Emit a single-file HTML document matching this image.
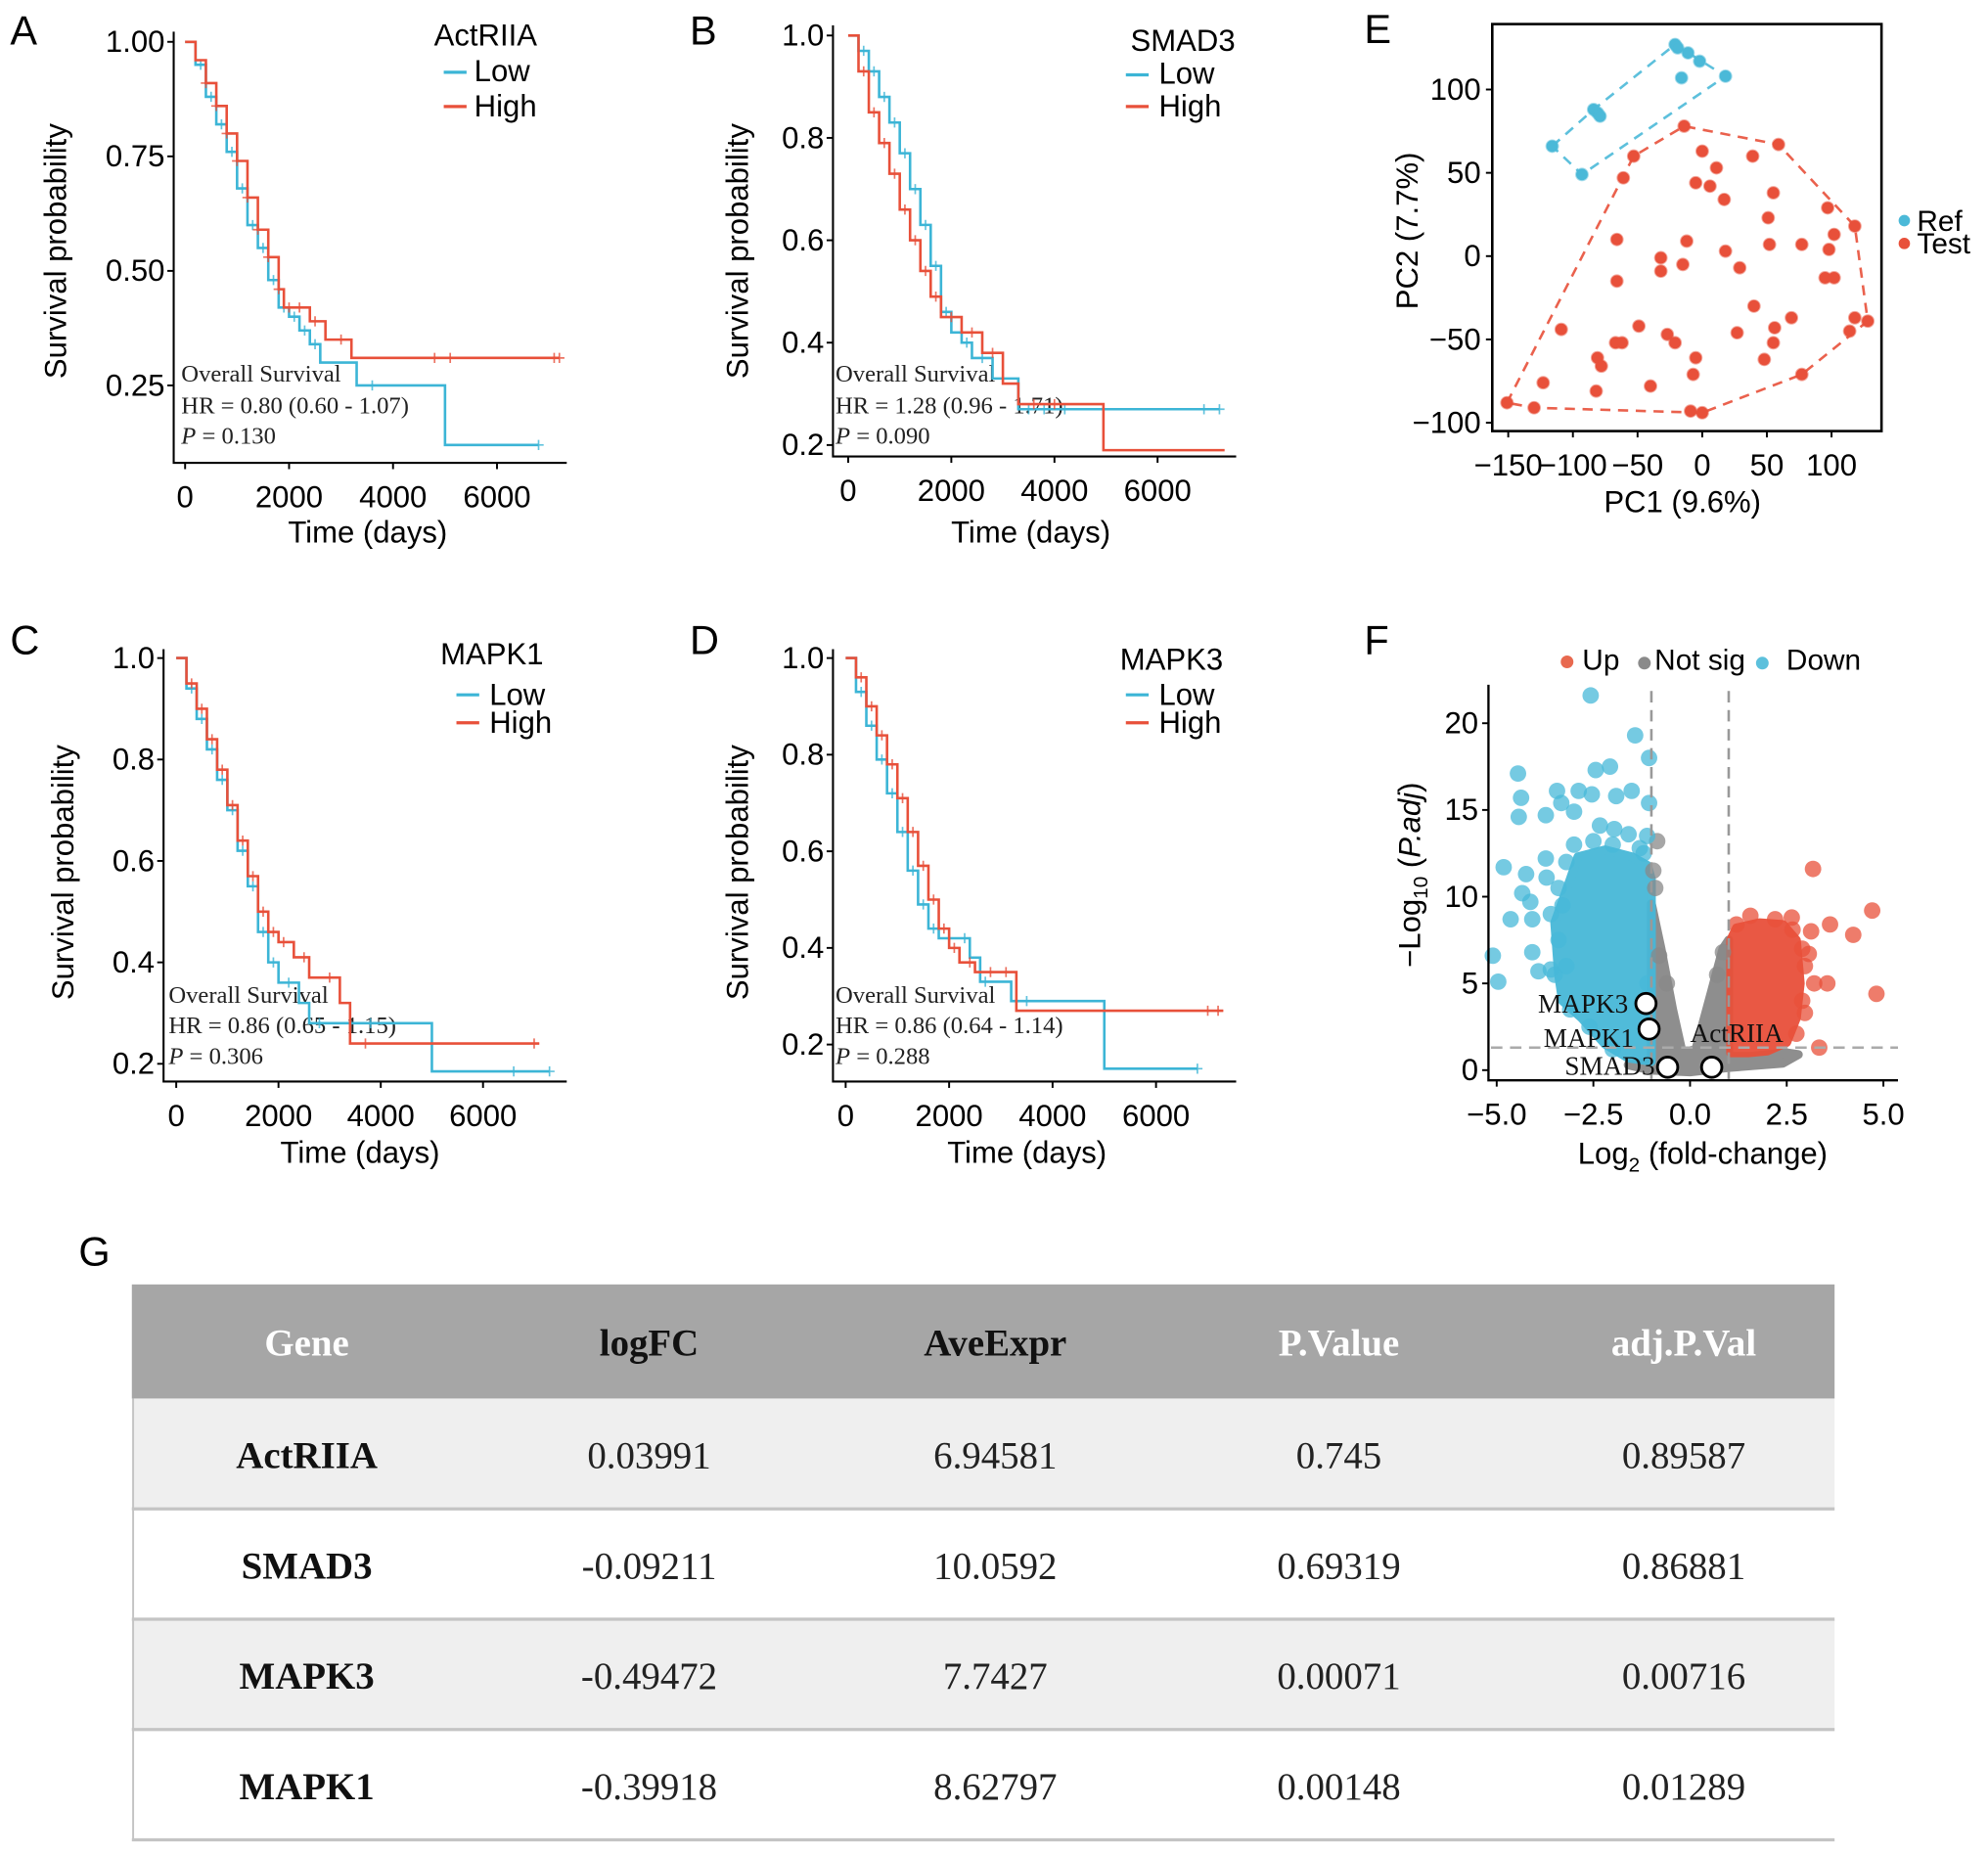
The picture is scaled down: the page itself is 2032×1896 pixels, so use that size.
<!DOCTYPE html>
<html><head><meta charset="utf-8"><style>
html,body{margin:0;padding:0;background:#fff;}
svg{display:block;}
.s{font-family:"Liberation Sans",sans-serif;}
.r{font-family:"Liberation Serif",serif;}
</style></head><body>
<svg id="fig" xmlns="http://www.w3.org/2000/svg" width="2032" height="1896" viewBox="0 0 1568 1463" preserveAspectRatio="none">
<rect x="0" y="0" width="1568" height="1463" fill="#fff"/>
<g class="s" font-size="32" fill="#000">
<text x="8" y="35">A</text>
<text x="544" y="35">B</text>
<text x="8" y="516">C</text>
<text x="544" y="516">D</text>
<text x="1076" y="34">E</text>
<text x="1076" y="516">F</text>
<text x="62" y="998">G</text>
</g>
<g class="s" font-size="24" fill="#000">
<text x="290" y="428" text-anchor="middle">Time (days)</text>
<text x="813" y="428" text-anchor="middle">Time (days)</text>
<text x="284" y="917" text-anchor="middle">Time (days)</text>
<text x="810" y="917" text-anchor="middle">Time (days)</text>
<text transform="translate(52,198) rotate(-90)" text-anchor="middle">Survival probability</text>
<text transform="translate(590,198) rotate(-90)" text-anchor="middle">Survival probability</text>
<text transform="translate(58,688) rotate(-90)" text-anchor="middle">Survival probability</text>
<text transform="translate(590,688) rotate(-90)" text-anchor="middle">Survival probability</text>
<text x="1327" y="404" text-anchor="middle">PC1 (9.6%)</text>
<text transform="translate(1118,182) rotate(-90)" text-anchor="middle">PC2 (7.7%)</text>
<text x="1343" y="918" text-anchor="middle">Log<tspan font-size="16" dy="6">2</tspan><tspan dy="-6"> (fold-change)</tspan></text>
<text transform="translate(1120,690) rotate(-90)" text-anchor="middle">−Log<tspan font-size="16" dy="6">10</tspan><tspan dy="-6"> (</tspan><tspan font-style="italic">P.adj</tspan>)</text>
</g>
<g class="s" font-size="24" fill="#000">
<text x="383" y="36" text-anchor="middle">ActRIIA</text>
<text x="374" y="64">Low</text>
<text x="374" y="92">High</text>
<text x="933" y="40" text-anchor="middle">SMAD3</text>
<text x="914" y="66">Low</text>
<text x="914" y="92">High</text>
<text x="388" y="524" text-anchor="middle">MAPK1</text>
<text x="386" y="556">Low</text>
<text x="386" y="578">High</text>
<text x="924" y="528" text-anchor="middle">MAPK3</text>
<text x="914" y="556">Low</text>
<text x="914" y="578">High</text>
</g>
<g stroke-width="2.5">
<line x1="350" y1="57" x2="368" y2="57" stroke="#3cb5d6"/>
<line x1="350" y1="84" x2="368" y2="84" stroke="#e8503a"/>
<line x1="888" y1="59" x2="906" y2="59" stroke="#3cb5d6"/>
<line x1="888" y1="84" x2="906" y2="84" stroke="#e8503a"/>
<line x1="360" y1="548" x2="378" y2="548" stroke="#3cb5d6"/>
<line x1="360" y1="570" x2="378" y2="570" stroke="#e8503a"/>
<line x1="888" y1="548" x2="906" y2="548" stroke="#3cb5d6"/>
<line x1="888" y1="570" x2="906" y2="570" stroke="#e8503a"/>
</g>
<g class="r" font-size="19" fill="#222">
<text x="143" y="301">Overall  Survival</text>
<text x="143" y="326">HR = 0.80  (0.60  -  1.07)</text>
<text x="143" y="350"><tspan font-style="italic">P</tspan> = 0.130</text>
<text x="659" y="301">Overall  Survival</text>
<text x="659" y="326">HR = 1.28  (0.96  -  1.71)</text>
<text x="659" y="350"><tspan font-style="italic">P</tspan> = 0.090</text>
<text x="133" y="791">Overall  Survival</text>
<text x="133" y="815">HR = 0.86  (0.65  -  1.15)</text>
<text x="133" y="839"><tspan font-style="italic">P</tspan> = 0.306</text>
<text x="659" y="791">Overall  Survival</text>
<text x="659" y="815">HR = 0.86  (0.64  -  1.14)</text>
<text x="659" y="839"><tspan font-style="italic">P</tspan> = 0.288</text>
</g>
<g class="s" font-size="23" fill="#000">
<circle cx="1502" cy="174" r="4.5" fill="#4bb9d8"/>
<text x="1512" y="182">Ref</text>
<circle cx="1502" cy="192" r="4.5" fill="#e8503a"/>
<text x="1512" y="200">Test</text>
<circle cx="1236" cy="522" r="5" fill="#e8694f"/>
<text x="1248" y="528">Up</text>
<circle cx="1297" cy="523" r="5" fill="#8a8a8a"/>
<text x="1305" y="528">Not sig</text>
<circle cx="1390" cy="523" r="5" fill="#5cc0dc"/>
<text x="1409" y="528">Down</text>
</g>
<g id="table">
<rect x="104" y="1013" width="1343" height="90" fill="#a6a6a6"/>
<rect x="104" y="1103" width="1343" height="87" fill="#efefef"/>
<rect x="104" y="1190" width="1343" height="87" fill="#ffffff"/>
<rect x="104" y="1277" width="1343" height="87" fill="#efefef"/>
<rect x="104" y="1364" width="1343" height="87" fill="#ffffff"/>
<g stroke="#c4c4c4" stroke-width="2.5">
<line x1="104" y1="1190" x2="1447" y2="1190"/><line x1="104" y1="1277" x2="1447" y2="1277"/>
<line x1="104" y1="1364" x2="1447" y2="1364"/><line x1="104" y1="1451" x2="1447" y2="1451"/>
<line x1="105" y1="1103" x2="105" y2="1451" stroke-width="1.5"/>
</g>
<g class="r" font-size="30" text-anchor="middle" font-weight="bold">
<text x="242" y="1069" fill="#fff">Gene</text><text x="512" y="1069" fill="#111">logFC</text><text x="785" y="1069" fill="#111">AveExpr</text><text x="1056" y="1069" fill="#fff">P.Value</text><text x="1328" y="1069" fill="#fff">adj.P.Val</text>
<text x="242" y="1158" fill="#111">ActRIIA</text><text x="242" y="1245" fill="#111">SMAD3</text><text x="242" y="1332" fill="#111">MAPK3</text><text x="242" y="1419" fill="#111">MAPK1</text>
</g>
<g class="r" font-size="30" text-anchor="middle" fill="#222">
<text x="512" y="1158">0.03991</text><text x="785" y="1158">6.94581</text><text x="1056" y="1158">0.745</text><text x="1328" y="1158">0.89587</text>
<text x="512" y="1245">-0.09211</text><text x="785" y="1245">10.0592</text><text x="1056" y="1245">0.69319</text><text x="1328" y="1245">0.86881</text>
<text x="512" y="1332">-0.49472</text><text x="785" y="1332">7.7427</text><text x="1056" y="1332">0.00071</text><text x="1328" y="1332">0.00716</text>
<text x="512" y="1419">-0.39918</text><text x="785" y="1419">8.62797</text><text x="1056" y="1419">0.00148</text><text x="1328" y="1419">0.01289</text>
</g>
</g>
</svg>
<script>
// ---------- Kaplan-Meier data ----------
const aLowT=[0,200,400,600,800,1000,1200,1400,1600,1800,2000,2200,2400,2600,3300,5000];
const aLowS=[1,0.95,0.88,0.82,0.76,0.68,0.60,0.55,0.48,0.42,0.40,0.37,0.34,0.30,0.25,0.12];
const aLowEnd=6800;
const aLowCens=[300,500,700,900,1100,1300,1500,1700,1900,2100,2300,2500,3600,6800];
const aHighT=[0,200,400,600,800,1000,1200,1400,1600,1800,1900,2400,2700,3200];
const aHighS=[1,0.96,0.91,0.86,0.80,0.74,0.66,0.59,0.53,0.46,0.42,0.39,0.35,0.31];
const aHighEnd=7200;
const aHighCens=[400,600,800,1000,1200,1400,1600,1800,2000,2200,2500,3000,4800,5100,7100,7200];

const bLowT=[0,200,400,600,800,1000,1200,1400,1600,1800,2000,2200,2400,2800,3300];
const bLowS=[1,0.97,0.93,0.88,0.83,0.77,0.70,0.63,0.55,0.46,0.42,0.40,0.37,0.33,0.27];
const bLowEnd=7200;
const bLowCens=[300,500,700,900,1100,1300,1500,1700,1900,2300,2600,3500,3800,4200,6900,7200];
const bHighT=[0,200,400,600,800,1000,1200,1400,1600,1800,2200,2600,3000,3300,4950];
const bHighS=[1,0.93,0.85,0.79,0.73,0.66,0.60,0.54,0.49,0.45,0.42,0.38,0.32,0.28,0.19];
const bHighEnd=7300;
const bHighCens=[300,500,700,900,1100,1300,1500,1700,2000,2400,2800,3600,4000];

const cLowT=[0,200,400,600,800,1000,1200,1400,1600,1800,2000,2400,2600,5000];
const cLowS=[1,0.94,0.88,0.82,0.76,0.70,0.62,0.55,0.46,0.40,0.36,0.32,0.28,0.185];
const cLowEnd=7300;
const cLowCens=[300,500,700,900,1100,1300,1500,1700,1900,2200,2800,3400,3800,6600,7300];
const cHighT=[0,200,400,600,800,1000,1200,1400,1600,1800,2000,2300,2600,3200,3400];
const cHighS=[1,0.95,0.90,0.84,0.78,0.71,0.64,0.57,0.50,0.46,0.44,0.41,0.37,0.32,0.24];
const cHighEnd=7100;
const cHighCens=[300,500,700,900,1100,1300,1500,1700,1900,2100,2500,3000,3700,7000];

const dLowT=[0,200,400,600,800,1000,1200,1400,1600,1800,2400,2600,3200,5000];
const dLowS=[1,0.93,0.86,0.79,0.72,0.64,0.56,0.49,0.44,0.42,0.38,0.33,0.29,0.15];
const dLowEnd=6800;
const dLowCens=[300,500,700,900,1100,1300,1500,1700,2000,2300,2700,3500,6800];
const dHighT=[0,200,400,600,800,1000,1200,1400,1600,1800,2000,2200,2500,3300];
const dHighS=[1,0.96,0.90,0.84,0.78,0.71,0.64,0.57,0.50,0.44,0.40,0.37,0.35,0.27];
const dHighEnd=7300;
const dHighCens=[300,500,700,900,1100,1300,1500,1700,1900,2100,2400,2800,3100,7000,7200];

const kmXTicks=[0,2000,4000,6000];
const kmXTickLabels=["0","2000","4000","6000"];
const aYTicks=[1.00,0.75,0.50,0.25];
const aYTickLabels=["1.00","0.75","0.50","0.25"];
const kmYTicks=[1.0,0.8,0.6,0.4,0.2];
const kmYTickLabels=["1.0","0.8","0.6","0.4","0.2"];

// ---------- PCA data ----------
const refPC1=[-21,-19,-11,-2,-16,18,-84,-81,-79,-116,-93];
const refPC2=[127,125,122,117,107,108,88,86,84,66,49];
const testPC1=[-14,59,-53,0,39,-61,11,-5,6,17,55,97,51,118,102,-66,-12,52,77,98,18,-32,-15,-32,29,95,102,-66,40,69,118,128,-109,-49,56,27,-27,-21,114,-67,-62,55,-5,48,-81,-78,-7,77,-123,-40,-82,-151,-130,-9,0];
const testPC2=[78,67,60,63,60,47,53,44,42,34,38,29,23,18,13,10,9,7,7,4,3,-1,-5,-9,-7,-13,-13,-15,-30,-37,-37,-39,-44,-42,-43,-46,-47,-52,-45,-52,-52,-52,-61,-62,-61,-66,-71,-71,-76,-78,-81,-88,-91,-93,-94];
const pcXTicks=[-150,-100,-50,0,50,100];
const pcXTickLabels=["−150","−100","−50","0","50","100"];
const pcYTicks=[100,50,0,-50,-100];
const pcYTickLabels=["100","50","0","−50","−100"];

// ---------- Volcano data ----------
const downCoreFC=[-3.4,-3.5,-3.1,-2.9,-2.2,-1.5,-1.1,-1.0,-1.0,-1.6,-2.2,-2.8,-3.3];
const downCoreP=[5.5,8.5,11,12.3,12.7,12.3,11.8,11,0.5,0.7,1.5,3,4];
const downFC=[-2.57,-1.42,-1.06,-2.07,-2.44,-4.45,-4.37,-3.44,-2.88,-2.54,-1.91,-1.51,-1.06,-4.43,-3.73,-3.33,-3.0,-2.33,-1.96,-1.59,-1.11,-4.82,-4.24,-3.71,-3.73,-4.34,-4.13,-4.08,-4.64,-4.08,-5.1,-4.96,-3.92,-3.6,-3.3,-3.4,-3.2,-3.6,-3.0,-2.5,-2.0,-1.3,-3.1,-2.6,-2.0,-3.5,-3.4,-3.2,-1.2,-1.1];
const downP=[21.6,19.3,18.0,17.5,17.3,17.1,15.7,16.1,16.1,15.9,15.8,16.1,15.4,14.6,14.7,15.4,14.9,14.1,13.9,13.6,13.5,11.7,11.3,11.1,12.2,10.2,9.7,8.7,8.7,6.8,6.6,5.1,5.7,5.8,9.5,7.5,6.0,9.0,13.0,13.2,13.0,12.8,3.5,2.5,1.2,5.5,10.5,12.0,12.5,5.0];
const upCoreFC=[1.05,1.05,1.2,1.8,2.4,2.75,2.85,2.75,2.5,2.0,1.5];
const upCoreP=[1.0,7.5,8.2,8.5,8.4,7.5,5,3,1.6,1.1,1.0];
const upFC=[3.18,4.71,1.56,2.63,3.13,3.62,4.22,2.65,4.82,3.55,3.21,2.97,3.34,2.97,3.07,2.75,1.2,2.2,2.9,2.9];
const upP=[11.6,9.2,8.9,8.8,8.0,8.4,7.8,8.1,4.4,5.0,5.0,3.3,1.3,6.0,6.7,2.1,8.4,8.7,4.0,7.0];
const nsCoreFC=[-1.0,-0.75,-0.45,-0.2,0.15,0.55,0.85,1.0,1.0,1.6,2.5,2.8,2.4,1.0,0,-1.0,-1.6,-1.0];
const nsCoreP=[9.6,7,3.5,1,1.2,4.5,7.0,7.5,0.8,0.8,1.0,0.9,0.4,0.15,-0.1,0.0,0.3,0.5];
const nsFC=[-0.85,-0.8,-0.9,-0.95,-0.6,0.7,0.85];
const nsP=[13.2,6.6,10.5,11.5,5,5.5,6.8];
const geneNames=["MAPK3","MAPK1","SMAD3","ActRIIA"];
const geneFC=[-1.14,-1.06,-0.58,0.56];
const geneP=[3.84,2.37,0.17,0.17];
const vXTicks=[-5,-2.5,0,2.5,5];
const vXTickLabels=["−5.0","−2.5","0.0","2.5","5.0"];
const vYTicks=[0,5,10,15,20];
const vYTickLabels=["0","5","10","15","20"];
const fcCut=1, pCut=1.3;

// ---------- drawing ----------
const NS='http://www.w3.org/2000/svg';
const svg=document.getElementById('fig');
function mk(tag,attrs,parent){const e=document.createElementNS(NS,tag);for(const k in attrs)e.setAttribute(k,attrs[k]);(parent||svg).appendChild(e);return e;}
const BLUE='#3cb5d6', RED='#e8503a';
const TF=24;

const kmPanels=[
 {id:'a',ax:137,ay:365,top:25,right:447,x0:146,kx:0.041,y1:33,ky:361.3,yt:aYTicks,yl:aYTickLabels,
  low:[aLowT,aLowS,aLowEnd,aLowCens],high:[aHighT,aHighS,aHighEnd,aHighCens]},
 {id:'b',ax:657,ay:360,top:20,right:975,x0:669,kx:0.04067,y1:28,ky:403.75,yt:kmYTicks,yl:kmYTickLabels,
  low:[bLowT,bLowS,bLowEnd,bLowCens],high:[bHighT,bHighS,bHighEnd,bHighCens]},
 {id:'c',ax:129,ay:853,top:512,right:447,x0:139,kx:0.04033,y1:519,ky:400,yt:kmYTicks,yl:kmYTickLabels,
  low:[cLowT,cLowS,cLowEnd,cLowCens],high:[cHighT,cHighS,cHighEnd,cHighCens]},
 {id:'d',ax:657,ay:853,top:512,right:975,x0:667,kx:0.0408,y1:519,ky:381,yt:kmYTicks,yl:kmYTickLabels,
  low:[dLowT,dLowS,dLowEnd,dLowCens],high:[dHighT,dHighS,dHighEnd,dHighCens]}
];
function survAt(T,S,t){let s=S[0];for(let i=0;i<T.length;i++){if(T[i]<=t)s=S[i];}return s;}
kmPanels.forEach(p=>{
  const X=t=>p.x0+t*p.kx, Y=s=>p.y1+(1-s)*p.ky;
  const g=mk('g',{});
  
  
  [['low',BLUE],['high',RED]].forEach(([k,col])=>{
    const [T,S,end,C]=p[k];
    let d='M'+X(T[0])+' '+Y(S[0]);
    for(let i=1;i<T.length;i++){d+=' H'+X(T[i])+' V'+Y(S[i]);}
    d+=' H'+X(end);
    const path=mk('path',{d:d,fill:'none',stroke:col,'stroke-width':2},g);
    
    
    C.forEach(t=>{
      const cx=X(t), cy=Y(survAt(T,S,t));
      const m=mk('path',{d:`M${cx-4} ${cy} H${cx+4} M${cx} ${cy-4} V${cy+4}`,stroke:col,'stroke-width':1.3,opacity:0.8},g);
      
      
    });
  });
  const ax=mk('path',{d:`M${p.ax} ${p.top} V${p.ay} H${p.right}`,fill:'none',stroke:'#000','stroke-width':1.6},g);
  
  
  p.yt.forEach((v,i)=>{
    const y=Y(v);
    mk('line',{x1:p.ax-5,x2:p.ax,y1:y,y2:y,stroke:'#000','stroke-width':1.5},g);
    const t=mk('text',{x:p.ax-7,y:y+8,'text-anchor':'end','font-size':TF,class:'s'},g);
    t.textContent=p.yl[i];
    
    
  });
  kmXTicks.forEach((v,i)=>{
    const x=X(v);
    mk('line',{x1:x,x2:x,y1:p.ay,y2:p.ay+5,stroke:'#000','stroke-width':1.5},g);
    const t=mk('text',{x:x,y:p.ay+35,'text-anchor':'middle','font-size':TF,class:'s'},g);
    t.textContent=kmXTickLabels[i];
    
    
  });
});

// PCA
(function(){
  const X=v=>1342.6+v*1.02, Y=v=>202-v*1.314;
  const g=mk('g',{});
  
  
  function hull(xs,ys){
    let pts=xs.map((x,i)=>[X(x),Y(ys[i])]).sort((a,b)=>a[0]-b[0]||a[1]-b[1]);
    const cr=(o,a,b)=>(a[0]-o[0])*(b[1]-o[1])-(a[1]-o[1])*(b[0]-o[0]);
    const lo=[],up=[];
    pts.forEach(p=>{while(lo.length>=2&&cr(lo[lo.length-2],lo[lo.length-1],p)<=0)lo.pop();lo.push(p);});
    pts.slice().reverse().forEach(p=>{while(up.length>=2&&cr(up[up.length-2],up[up.length-1],p)<=0)up.pop();up.push(p);});
    return lo.slice(0,-1).concat(up.slice(0,-1));
  }
  [[refPC1,refPC2,'#4bb9d8','ref'],[testPC1,testPC2,'#e8503a','test']].forEach(([xs,ys,col,nm])=>{
    const h=hull(xs,ys);
    const poly=mk('polygon',{points:h.map(p=>p.join(',')).join(' '),fill:'none',stroke:col,'stroke-width':2,'stroke-dasharray':'8,6',opacity:0.9},g);
    
    
    xs.forEach((x,i)=>{
      const c=mk('circle',{cx:X(x),cy:Y(ys[i]),r:4.6,fill:col,stroke:col,'stroke-opacity':0.5,'stroke-width':1.5},g);
      
      
    });
  });
  const box=mk('rect',{x:1177,y:19,width:307,height:321,fill:'none',stroke:'#000','stroke-width':2},g);
  
  
  pcXTicks.forEach((v,i)=>{
    mk('line',{x1:X(v),x2:X(v),y1:340,y2:345,stroke:'#000','stroke-width':1.5},g);
    const t=mk('text',{x:X(v),y:375,'text-anchor':'middle','font-size':TF,class:'s'},g);
    t.textContent=pcXTickLabels[i];
    
    
  });
  pcYTicks.forEach((v,i)=>{
    mk('line',{x1:1172,x2:1177,y1:Y(v),y2:Y(v),stroke:'#000','stroke-width':1.5},g);
    const t=mk('text',{x:1168,y:Y(v)+8,'text-anchor':'end','font-size':TF,class:'s'},g);
    t.textContent=pcYTickLabels[i];
    
    
  });
})();

// Volcano
(function(){
  const X=v=>1333+v*30.5, Y=v=>844-v*13.68;
  const AX=1174;
  const g=mk('g',{});
  
  
  const groups=[[nsCoreFC,nsCoreP,nsFC,nsP,'#888888','not-sig'],[downCoreFC,downCoreP,downFC,downP,'#47b8d8','down'],[upCoreFC,upCoreP,upFC,upP,'#e8503a','up']];
  groups.forEach(([cx,cy,fx,fy,col,nm])=>{
    const pts=cx.map((x,i)=>X(x)+','+Y(cy[i])).join(' ');
    const poly=mk('polygon',{points:pts,fill:col,stroke:col,'stroke-width':7,'stroke-linejoin':'round',opacity:0.95},g);
    
    
  });
  groups.forEach(([cx,cy,fx,fy,col,nm])=>{
    fx.forEach((x,i)=>{
      const c=mk('circle',{cx:X(x),cy:Y(fy[i]),r:6.5,fill:col,opacity:0.75},g);
      
      
    });
  });
  [[-fcCut],[fcCut]].forEach(([v])=>{
    const l=mk('line',{x1:X(v),x2:X(v),y1:545,y2:851,stroke:'#999','stroke-width':2,'stroke-dasharray':'9,6'},g);
    
    
  });
  const hl=mk('line',{x1:AX+2,x2:1497,y1:Y(pCut),y2:Y(pCut),stroke:'#aaa','stroke-width':2,'stroke-dasharray':'9,6'},g);
  
  
  const offs=[[-14,7,'end'],[-12,14,'end'],[-10,6,'end'],[-17,-20,'start']];
  geneNames.forEach((n,i)=>{
    const px=X(geneFC[i]), py=Y(geneP[i]);
    const c=mk('circle',{cx:px,cy:py,r:8,fill:'#fff',stroke:'#000','stroke-width':2.2},g);
    
    
    const t=mk('text',{x:px+offs[i][0],y:py+offs[i][1],'text-anchor':offs[i][2],'font-size':21,class:'r',fill:'#111'},g);
    t.textContent=n;
    
    
  });
  const ax=mk('path',{d:`M${AX} 540 V852 H1497`,fill:'none',stroke:'#000','stroke-width':1.8},g);
  
  
  vXTicks.forEach((v,i)=>{
    mk('line',{x1:X(v),x2:X(v),y1:852,y2:857,stroke:'#000','stroke-width':1.5},g);
    const t=mk('text',{x:X(v),y:887,'text-anchor':'middle','font-size':TF,class:'s'},g);
    t.textContent=vXTickLabels[i];
    
    
  });
  vYTicks.forEach((v,i)=>{
    mk('line',{x1:AX-5,x2:AX,y1:Y(v),y2:Y(v),stroke:'#000','stroke-width':1.5},g);
    const t=mk('text',{x:AX-8,y:Y(v)+8,'text-anchor':'end','font-size':TF,class:'s'},g);
    t.textContent=vYTickLabels[i];
    
    
  });
})();
</script>
</body></html>
